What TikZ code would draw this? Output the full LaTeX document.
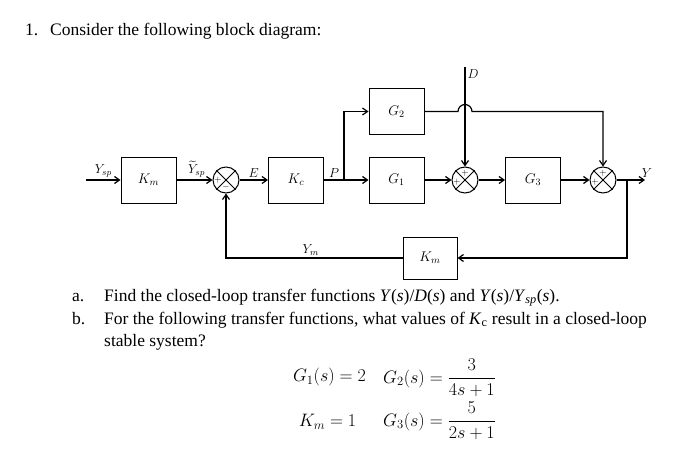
\RequirePackage{fix-cm}
\documentclass[tikz,border=0pt]{standalone}
\usepackage{amsmath,amssymb}
\usepackage{fontspec}
\setmainfont{Liberation Serif}
\usetikzlibrary{positioning,arrows.meta,calc}

\begin{document}
\begin{tikzpicture}[
    x=1pt,y=1pt,
    block/.style={draw,line width=1pt,minimum width=55pt,minimum height=46pt,inner sep=0pt,font=\fontsize{14}{16}\selectfont},
    sumnode/.style={draw,line width=1pt,circle,minimum size=26pt,inner sep=0pt},
    sign/.style={inner sep=0pt,font=\fontsize{9}{9}\selectfont},
    arr/.style={-{Straight Barb[length=5pt,width=7pt]},line width=1.2pt},
    line/.style={line width=1.2pt},
    lab/.style={font=\fontsize{13}{15}\selectfont,inner sep=2pt},
    txt/.style={font=\fontsize{17.5}{20}\selectfont,anchor=base west,inner sep=0pt},
    eq/.style={font=\fontsize{18}{21}\selectfont,inner sep=0pt}
  ]
    \useasboundingbox (0,0) rectangle (700,456);

    % forward path
    \coordinate (in) at (86,276);
    \node[block] (km1) at (148.5,276) {$K_m$};
    \node[sumnode] (s1) at (226,276) {};
    \node[block] (kc) at (296,276) {$K_c$};
    \coordinate (br) at (344,276);
    \node[block] (g2) at (396.5,344.5) {$G_2$};
    \node[block] (g1) at (396.5,276) {$G_1$};
    \node[sumnode] (s2) at (465,276) {};
    \node[block] (g3) at (533,276) {$G_3$};
    \node[sumnode] (s3) at (603,276) {};
    \coordinate (tap) at (627,276);
    \coordinate (out) at (645,276);
    \coordinate (dtop) at (465,389);
    \coordinate (hump) at (dtop|-g2);
    \node[block,minimum width=54pt,minimum height=42pt] (km2) at (430,198) {$K_m$};

    % summing junctions
    \foreach \s in {s1,s2,s3} {
      \draw[line width=0.8pt] (\s.north west) -- (\s.south east);
      \draw[line width=0.8pt] (\s.north east) -- (\s.south west);
    }
    \node[sign] (s1p) at ([xshift=-8pt]s1.center) {$+$};
    \node[sign] (s1m) at ([yshift=-7.5pt]s1.center) {$-$};
    \node[sign] (s2t) at ([yshift=7pt]s2.center) {$+$};
    \node[sign] (s2l) at ([xshift=-8pt,yshift=-2pt]s2.center) {$+$};
    \node[sign] (s3t) at ([yshift=7pt]s3.center) {$+$};
    \node[sign] (s3l) at ([xshift=-8pt,yshift=-2pt]s3.center) {$+$};

    \draw[arr] (in) -- node[lab,above] {$Y_{sp}$} (km1);
    \draw[arr] (km1) -- node[lab,above,xshift=2pt] {$\widetilde{Y}_{sp}$} (s1);
    \draw[arr] (s1) -- node[lab,above] {$E$} (kc);
    \draw[line] (kc) -- node[lab,above] {$P$} (br);
    \draw[arr] (br) -- (g1);
    \draw[arr] (br) |- (g2);
    \draw[arr] (g1) -- (s2);
    \draw[arr] (s2) -- (g3);
    \draw[arr] (g3) -- (s3);
    \draw[arr] (s3) -- (out) node[lab,above,xshift=2pt] {$Y$};
    \draw[arr] (dtop) node[lab,below right] {$D$} -- (s2);
    \draw[arr] (g2) -- ([xshift=-7pt]hump) arc[start angle=180,end angle=0,radius=7pt] -| (s3);
    % feedback
    \draw[arr] (tap) |- (km2);
    \draw[arr] (km2) -| node[lab,above,pos=0.26] {$Y_m$} (s1);

    % question text
    \node[txt] (n1) at (25,420) {1.};
    \node[txt] (q1) at (50,420) {Consider the following block diagram:};
    \node[txt] (na) at (72,155) {a.};
    \node[txt] (qa) at (104,155) {Find the closed-loop transfer functions \textit{Y}(\textit{s})/\textit{D}(\textit{s}) and \textit{Y}(\textit{s})/\textit{Y}\textsubscript{\textit{sp}}(\textit{s}).};
    \node[txt] (nb) at (72,132) {b.};
    \node[txt] (qb) at (104,132) {For the following transfer functions, what values of \textit{K}\textsubscript{c} result in a closed-loop};
    \node[txt] (qb2) at (104,110) {stable system?};

    % given data
    \node[eq] (e1) at (329.5,79) {$G_1(s)=2$};
    \node[eq,anchor=west] (e2) at (383,78) {$G_2(s)=\dfrac{3}{4s+1}$};
    \node[eq] (e3) at (327.5,34) {$K_m=1$};
    \node[eq,anchor=west] (e4) at (383,35) {$G_3(s)=\dfrac{5}{2s+1}$};
\end{tikzpicture}
\end{document}
